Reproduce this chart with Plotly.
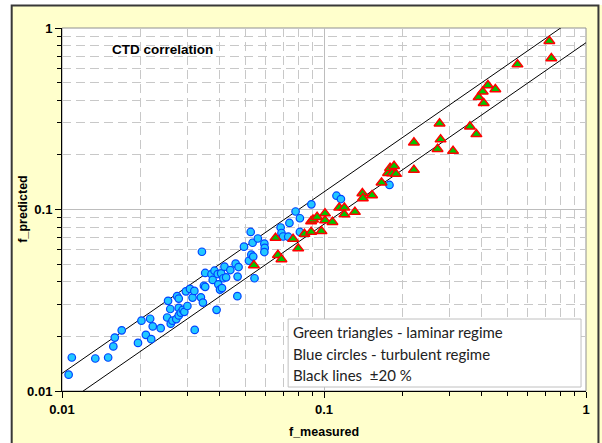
import plotly.graph_objects as go

# ---------------- data ----------------
blue_x = [0.0106, 0.0109, 0.0134, 0.0150, 0.0157, 0.0159, 0.0169, 0.0195, 0.0201, 0.0209,
          0.0217, 0.0222, 0.0219, 0.0238, 0.0252, 0.0254, 0.0259, 0.0260, 0.0264, 0.0273,
          0.0275, 0.0279, 0.0279, 0.0279, 0.0284, 0.0289, 0.0293, 0.0297, 0.0301, 0.0308,
          0.0315, 0.0321, 0.0339, 0.0345, 0.0342, 0.0348, 0.0352, 0.0352, 0.0372, 0.0376,
          0.0382, 0.0389, 0.0393, 0.0395, 0.0401, 0.0405, 0.0408, 0.0413, 0.0417, 0.0423,
          0.0439, 0.0460, 0.0467, 0.0468, 0.0472, 0.0495, 0.0517, 0.0525, 0.0528, 0.0534,
          0.0537, 0.0543, 0.0559, 0.0592, 0.0594, 0.0592, 0.0683, 0.0688, 0.0698, 0.0730,
          0.0738, 0.0779, 0.0809, 0.0809, 0.0895, 0.1116, 0.1160, 0.1778, 0.0320]
blue_y = [0.0123, 0.0153, 0.0151, 0.0153, 0.0176, 0.0197, 0.0216, 0.0184, 0.0244, 0.0204,
          0.0250, 0.0227, 0.0193, 0.0222, 0.0254, 0.0314, 0.0283, 0.0235, 0.0244, 0.0249,
          0.0333, 0.0323, 0.0287, 0.0261, 0.0270, 0.0280, 0.0273, 0.0354, 0.0294, 0.0365,
          0.0327, 0.0217, 0.0328, 0.0307, 0.0585, 0.0380, 0.0375, 0.0447, 0.0440, 0.0409,
          0.0460, 0.0280, 0.0441, 0.0387, 0.0362, 0.0445, 0.0369, 0.0418, 0.0484, 0.0423,
          0.0464, 0.0503, 0.0333, 0.0427, 0.0482, 0.0624, 0.0522, 0.0752, 0.0564, 0.0656,
          0.0550, 0.0418, 0.0692, 0.0648, 0.0614, 0.0583, 0.0796, 0.0742, 0.0710, 0.0708,
          0.0843, 0.0975, 0.0895, 0.0752, 0.1068, 0.1191, 0.1142, 0.1365, 0.0356]

green_x = [0.0540, 0.0653, 0.0667, 0.0688, 0.0762, 0.0797, 0.0842, 0.0893, 0.0978, 0.0893,
           0.0908, 0.0941, 0.1009, 0.1009, 0.1077, 0.1143, 0.1196, 0.1196, 0.1312, 0.1401,
           0.1407, 0.1526, 0.1658, 0.1756, 0.1787, 0.1819, 0.1851, 0.1883, 0.2204, 0.2204,
           0.2713, 0.2761, 0.2786, 0.3108, 0.3606, 0.3817, 0.3891, 0.4034, 0.4070, 0.4223,
           0.4508, 0.5475, 0.7246, 0.7374]
green_y = [0.0493, 0.0697, 0.0561, 0.0532, 0.0688, 0.0610, 0.0733, 0.0752, 0.0759, 0.0861,
           0.0879, 0.0909, 0.0951, 0.0870, 0.0853, 0.1023, 0.1023, 0.0939, 0.0969, 0.1228,
           0.1153, 0.1197, 0.1405, 0.1589, 0.1693, 0.1583, 0.1736, 0.1569, 0.1651, 0.2339,
           0.2154, 0.2977, 0.2431, 0.2101, 0.2866, 0.2599, 0.4156, 0.4457, 0.3852, 0.4833,
           0.4595, 0.6295, 0.8479, 0.6808]

band_x = [0.01, 1.0]
upper_y = [0.0125, 1.25]
lower_y = [0.0083, 0.83]

major_ticks = [0.01, 0.1, 1]
major_labels = ["0.01", "0.1", "1"]
minor_ticks = [0.02, 0.03, 0.04, 0.05, 0.06, 0.07, 0.08, 0.09,
               0.2, 0.3, 0.4, 0.5, 0.6, 0.7, 0.8, 0.9]

chart_title = "CTD correlation"
x_title = "f_measured"
y_title = "f_predicted"
note_lines = ["Green triangles - laminar regime",
              "Blue circles - turbulent regime",
              "Black lines  \u00b120 %"]

# ---------------- figure ----------------
W, H = 602, 443
ML, MR, MT, MB = 62, 14, 28, 52
PW, PH = W - ML - MR, H - MT - MB


def px_x(p):
    return (p - ML) / PW


def px_y(p):
    return (H - MB - p) / PH


fig = go.Figure()
fig.add_trace(go.Scatter(x=band_x, y=upper_y, mode="lines",
                         line=dict(color="black", width=1), hoverinfo="skip"))
fig.add_trace(go.Scatter(x=band_x, y=lower_y, mode="lines",
                         line=dict(color="black", width=1), hoverinfo="skip"))
fig.add_trace(go.Scatter(x=blue_x, y=blue_y, mode="markers",
                         marker=dict(symbol="circle", size=7.5, color="#22C8FF",
                                     line=dict(color="#0044FF", width=1.2))))
fig.add_trace(go.Scatter(x=green_x, y=green_y, mode="markers",
                         marker=dict(symbol="triangle-up", size=9.5, color="#00C800",
                                     line=dict(color="#FF0000", width=1.5))))

tickfont = dict(family="Liberation Sans, Arial, sans-serif", size=13, color="black", weight="bold")
axis_common = dict(
    type="log", range=[-2, 0], tickmode="array", tickvals=major_ticks, ticktext=major_labels,
    ticks="outside", ticklen=6, tickcolor="black", tickwidth=1,
    showline=True, linecolor="black", linewidth=1,
    showgrid=True, gridcolor="#BDBDBD", gridwidth=1, zeroline=False,
    tickfont=tickfont,
    minor=dict(tickvals=minor_ticks, ticks="outside", ticklen=4, tickcolor="black",
               showgrid=True, gridcolor="#C8C8C8", griddash="9px,5px", gridwidth=1),
)

fig.update_layout(
    width=W, height=H, autosize=False,
    margin=dict(l=ML, r=MR, t=MT, b=MB),
    paper_bgcolor="#FFFFCC", plot_bgcolor="white",
    showlegend=False,
    xaxis=axis_common, yaxis=axis_common,
    font=dict(family="Liberation Sans, Arial, sans-serif"),
)

shapes = [
    # white strips outside the chart frame
    dict(type="rect", xref="paper", yref="paper", x0=px_x(-5), x1=px_x(11), y0=px_y(460), y1=px_y(-5),
         fillcolor="white", line=dict(width=0)),
    dict(type="rect", xref="paper", yref="paper", x0=px_x(-5), x1=px_x(610), y0=px_y(5), y1=px_y(-5),
         fillcolor="white", line=dict(width=0)),
    # chart frame
    dict(type="rect", xref="paper", yref="paper", x0=px_x(11.5), x1=px_x(600.5), y0=px_y(460), y1=px_y(5.5),
         line=dict(color="#383838", width=2)),
    # plot area border
    dict(type="rect", xref="x domain", yref="y domain", x0=0, x1=1, y0=0, y1=1,
         line=dict(color="#909090", width=1), layer="below"),
    # note box
    dict(type="rect", xref="paper", yref="paper", x0=px_x(289), x1=px_x(583), y0=px_y(387), y1=px_y(319),
         fillcolor="white", line=dict(color="#C0C0C0", width=1), layer="above"),
]
fig.update_layout(shapes=shapes)

annotations = [
    dict(text=chart_title, xref="paper", yref="paper", x=px_x(163), y=px_y(50),
         xanchor="center", yanchor="middle", showarrow=False,
         font=dict(family="Liberation Sans, Arial, sans-serif", size=13.5, color="black", weight="bold")),
    dict(text=x_title, xref="paper", yref="paper", x=0.5, y=px_y(432),
         xanchor="center", yanchor="middle", showarrow=False,
         font=dict(family="Liberation Sans, Arial, sans-serif", size=12.5, color="black", weight="bold")),
    dict(text=y_title, xref="paper", yref="paper", x=px_x(22), y=0.5, textangle=-90,
         xanchor="center", yanchor="middle", showarrow=False,
         font=dict(family="Liberation Sans, Arial, sans-serif", size=12.5, color="black", weight="bold")),
]
for i, (line, yp) in enumerate(zip(note_lines, [332, 353.5, 375])):
    annotations.append(dict(text=line, xref="paper", yref="paper", x=px_x(292), y=px_y(yp),
                            xanchor="left", yanchor="middle", showarrow=False,
                            font=dict(family="Lato, Carlito, sans-serif", size=15, color="#222222")))
fig.update_layout(annotations=annotations)

fig.write_html("out.html", include_plotlyjs=True, config={"displayModeBar": False})
